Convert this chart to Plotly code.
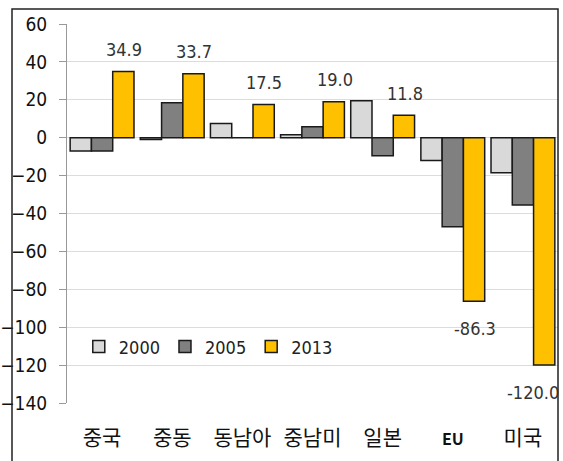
import plotly.graph_objects as go

categories = ["중국", "중동", "동남아", "중남미", "일본", "EU", "미국"]
tick_text = ["중국", "중동", "동남아", "중남미", "일본", "<span style='font-size:16px'><b>EU</b></span>", "미국"]
v2000 = [-7.0, -1.0, 7.5, 1.5, 19.5, -12.0, -18.5]
v2005 = [-7.0, 18.5, 0.0, 5.8, -9.5, -47.0, -35.5]
v2013 = [34.9, 33.7, 17.5, 19.0, 11.8, -86.3, -120.0]
y_ticks = [60, 40, 20, 0, -20, -40, -60, -80, -100, -120, -140]
label_xshift = [22, 22, 22, 22, 22, 22, 10]

num_font = "DejaVu Sans Condensed, Roboto, sans-serif"
kr_font = "Noto Sans CJK KR, sans-serif"

fig = go.Figure()
fig.add_trace(go.Bar(name="2000", x=categories, y=v2000,
                     marker=dict(color="#d9d9d9", line=dict(color="#1a1a1a", width=1.5))))
fig.add_trace(go.Bar(name="2005", x=categories, y=v2005,
                     marker=dict(color="#808080", line=dict(color="#1a1a1a", width=1.5))))
fig.add_trace(go.Bar(name="2013", x=categories, y=v2013,
                     marker=dict(color="#ffc000", line=dict(color="#1a1a1a", width=1.5))))

for c, v, xs in zip(categories, v2013, label_xshift):
    fig.add_annotation(x=c, y=v, text=f"{v:.1f}", showarrow=False,
                       xshift=xs, yshift=22 if v >= 0 else -27,
                       font=dict(family=num_font, size=18, color="#333333"))

fig.update_layout(
    width=563, height=461,
    margin=dict(l=67, r=5, t=24, b=58, autoexpand=False),
    paper_bgcolor="white", plot_bgcolor="white",
    barmode="group", bargap=0.09, bargroupgap=0,
    showlegend=True,
    legend=dict(orientation="h", x=0.024, y=0.148, xanchor="left", yanchor="middle",
                font=dict(family=num_font, size=18, color="#222222"),
                bgcolor="rgba(0,0,0,0)", itemwidth=30, tracegroupgap=0),
    xaxis=dict(tickvals=categories, ticktext=tick_text, showgrid=False, automargin=False,
               range=[-0.5, 6.5], autorange=False,
               showline=False, ticks="", zeroline=False,
               tickfont=dict(family=kr_font, size=21, color="#111111"),
               ticklabelstandoff=20),
    yaxis=dict(range=[-140, 60], tickvals=y_ticks, showgrid=True, gridcolor="#dcdcdc",
               automargin=False,
               gridwidth=1, zeroline=False, showline=True, linecolor="#999999", linewidth=1,
               ticks="outside", ticklen=7, tickcolor="#999999",
               tickfont=dict(family=num_font, size=19, color="#111111"),
               ticklabelstandoff=8),
)

fig.add_shape(type="rect", xref="paper", yref="paper",
              x0=(12 - 67) / 491, x1=(558 - 67) / 491,
              y0=(403 - 475) / 379, y1=(403 - 9) / 379,
              line=dict(color="#222222", width=1.5), layer="above")

fig.write_html("out.html")
